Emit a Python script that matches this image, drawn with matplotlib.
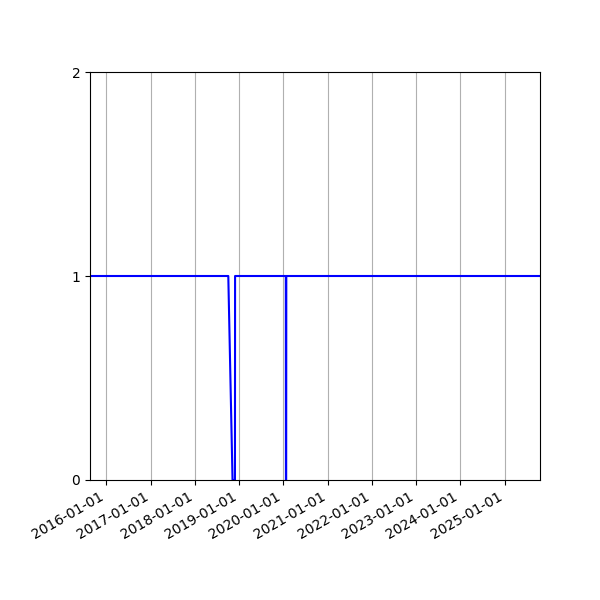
import matplotlib
matplotlib.use("Agg")
import matplotlib.pyplot as plt
import matplotlib.dates as mdates
import pandas as pd

# status series (1 = up, 0 = down), breakpoints
dates = ["2015-08-19", "2018-10-04", "2018-11-08", "2018-11-28", "2018-11-29",
         "2020-01-22", "2020-01-23", "2020-01-25", "2020-01-26", "2025-10-21"]
status = [1, 1, 0, 0, 1, 1, 0, 0, 1, 1]
yticks = [0, 1, 2]

x = pd.to_datetime(dates)

fig, ax = plt.subplots(figsize=(6, 6), dpi=100)
ax.plot(x, status, color="blue", linewidth=1.5)

ax.set_xlim(x[0], x[-1])
ax.set_ylim(0, 2)
ax.set_yticks(yticks)
ax.xaxis.set_major_locator(mdates.YearLocator())
ax.xaxis.set_major_formatter(mdates.DateFormatter("%Y-%m-%d"))
ax.grid(axis="x")
fig.autofmt_xdate()
fig.subplots_adjust(left=0.15)

fig.savefig("out.png")
